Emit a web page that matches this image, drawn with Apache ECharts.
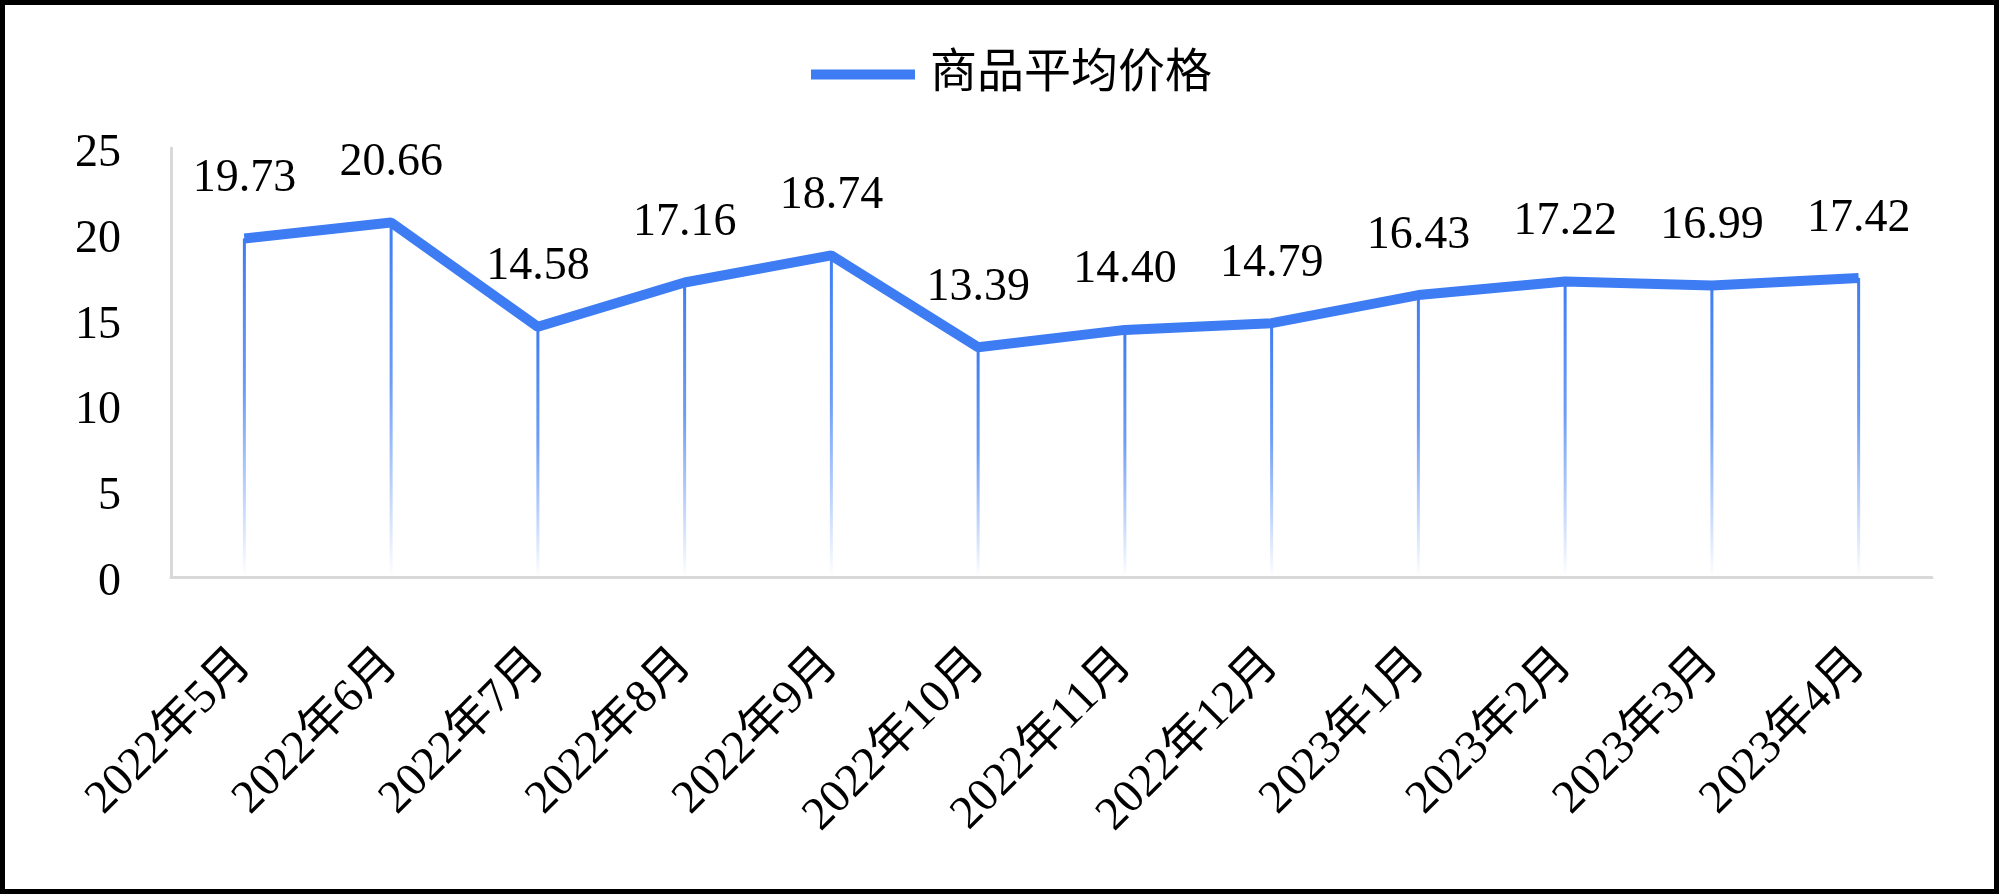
<!DOCTYPE html>
<html>
<head>
<meta charset="utf-8">
<script src="https://cdn.jsdelivr.net/npm/echarts@6/dist/echarts.min.js"></script>
<style>
html,body{margin:0;padding:0;background:#fff;}
#main{width:2000px;height:895px;}
</style>
</head>
<body>
<div id="main"></div>
<script>
// months and average price
var months = ['2022年5月','2022年6月','2022年7月','2022年8月','2022年9月','2022年10月',
              '2022年11月','2022年12月','2023年1月','2023年2月','2023年3月','2023年4月'];
var avg_price = [19.73, 20.66, 14.58, 17.16, 18.74, 13.39, 14.40, 14.79, 16.43, 17.22, 16.99, 17.42];
var series_name = '商品平均价格';

var blue = '#3d7cf2';
var font_main = "'Liberation Serif', 'Noto Sans CJK SC', serif";

var myChart = echarts.init(document.getElementById('main'));
var option = {
    backgroundColor: '#fff',
    animation: false,
    graphic: [{
        type: 'rect',
        shape: {x: 2.5, y: 2.5, width: 1994, height: 889},
        style: {fill: 'none', stroke: '#000', lineWidth: 5},
        silent: true
    }],
    legend: {
        top: 46,
        left: 806,
        data: [series_name],
        icon: 'rect',
        itemWidth: 104,
        itemHeight: 10,
        itemGap: 20,
        textStyle: {
            fontFamily: font_main,
            fontSize: 47,
            color: '#000',
            padding: [0, 0, 0, 10]
        }
    },
    grid: {
        left: 171,
        right: 68,
        top: 148,
        bottom: 318,
        containLabel: false
    },
    xAxis: {
        type: 'category',
        data: months,
        boundaryGap: true,
        axisLine: {show: true, lineStyle: {color: '#d9d9d9', width: 3}},
        axisTick: {show: false},
        axisLabel: {
            rotate: 45,
            margin: 80,
            interval: 0,
            fontFamily: font_main,
            fontSize: 47,
            color: '#000'
        }
    },
    yAxis: {
        type: 'value',
        min: 0,
        max: 25,
        interval: 5,
        axisLine: {show: true, lineStyle: {color: '#d9d9d9', width: 3}},
        axisTick: {show: false},
        splitLine: {show: false},
        axisLabel: {
            margin: 50,
            formatter: function (v) { return '{a|' + v + '}'; },
            rich: {
                a: {
                    padding: [12, 0, 0, 0],
                    fontFamily: font_main,
                    fontSize: 46,
                    color: '#000'
                }
            }
        }
    },
    series: [
        {
            // drop lines from each point down to the axis
            name: 'drop',
            type: 'bar',
            data: avg_price,
            barWidth: 3,
            silent: true,
            z: 1,
            itemStyle: {
                color: new echarts.graphic.LinearGradient(0, 0, 0, 1, [
                    {offset: 0, color: 'rgba(61,124,242,1)'},
                    {offset: 0.45, color: 'rgba(61,124,242,0.75)'},
                    {offset: 1, color: 'rgba(61,124,242,0)'}
                ])
            }
        },
        {
            name: series_name,
            type: 'line',
            data: avg_price,
            z: 3,
            symbol: 'circle',
            symbolSize: 1,
            itemStyle: {color: blue},
            lineStyle: {color: blue, width: 10},
            label: {
                show: true,
                position: 'top',
                distance: 36,
                fontFamily: font_main,
                fontSize: 46,
                color: '#000',
                formatter: function (p) { return p.value.toFixed(2); }
            }
        }
    ]
};
myChart.setOption(option);
</script>
</body>
</html>
